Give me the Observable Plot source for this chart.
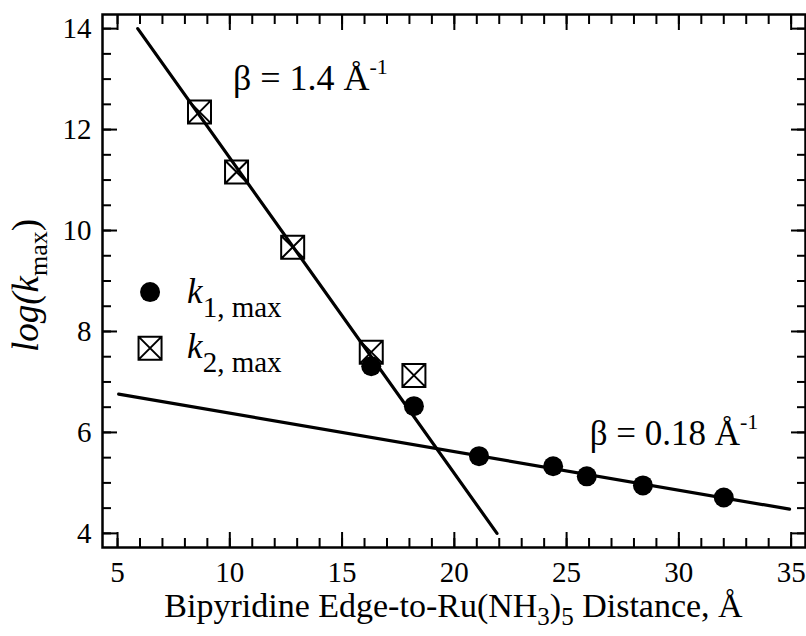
<!DOCTYPE html>
<html><head><meta charset="utf-8">
<script src="https://cdn.jsdelivr.net/npm/d3@7"></script>
<script src="https://cdn.jsdelivr.net/npm/@observablehq/plot@0.6"></script>
<style>body{margin:0;background:#fff}</style>
</head><body><div id="chart"></div>
<script>
// ---- data ----
const k1Distance = [16.3, 18.2, 21.1, 24.4, 25.9, 28.4, 32.0];
const k1LogK     = [7.31, 6.52, 5.53, 5.33, 5.13, 4.95, 4.71];
const k2Distance = [8.65, 10.3, 12.8, 16.3, 18.2];
const k2LogK     = [12.35, 11.16, 9.67, 7.59, 7.13];
const steepFitDistance   = [5.9, 21.9];
const steepFitLogK       = [14.0, 4.0];
const shallowFitDistance = [5.05, 34.93];
const shallowFitLogK     = [6.76, 4.48];
const xTicks = [5, 10, 15, 20, 25, 30, 35];
const yTicks = [4, 6, 8, 10, 12, 14];
const xMinorTicks = [5,6,7,8,9,10,11,12,13,14,15,16,17,18,19,20,21,22,23,24,25,26,27,28,29,30,31,32,33,34,35];
const yMinorTicks = [4,4.5,5,5.5,6,6.5,7,7.5,8,8.5,9,9.5,10,10.5,11,11.5,12,12.5,13,13.5,14];

const k1 = k1Distance.map((d, i) => ({d, v: k1LogK[i]}));
const k2 = k2Distance.map((d, i) => ({d, v: k2LogK[i]}));
const steep = steepFitDistance.map((d, i) => ({d, v: steepFitLogK[i]}));
const shallow = shallowFitDistance.map((d, i) => ({d, v: shallowFitLogK[i]}));

const SERIF = "Liberation Serif, Times New Roman, Times, serif";

// square with an X inside
const boxX = {
  draw(ctx, size) {
    const h = Math.sqrt(size / Math.PI);
    ctx.moveTo(-h, -h); ctx.lineTo(h, -h); ctx.lineTo(h, h); ctx.lineTo(-h, h); ctx.closePath();
    ctx.moveTo(-h, -h); ctx.lineTo(h, h);
    ctx.moveTo(h, -h); ctx.lineTo(-h, h);
  }
};

function rich(g, x, y, parts, size, anchor = "start", transform = null) {
  const t = g.append("text").attr("x", x).attr("y", y).attr("font-size", size)
    .attr("text-anchor", anchor).attr("fill", "black");
  if (transform) t.attr("transform", transform);
  let shift = 0;
  for (const p of parts) {
    const s = t.append("tspan").text(p.t);
    const target = p.shift || 0;
    if (target !== shift) { s.attr("dy", target - shift); shift = target; }
    if (p.size) s.attr("font-size", p.size);
    if (p.italic) s.attr("font-style", "italic");
  }
  return t;
}

function annotations(index, scales, values, dims) {
  const X = scales.x, Y = scales.y;
  const g = d3.create("svg:g").attr("font-family", SERIF);
  // beta labels
  rich(g, X(10.16), Y(12.77), [{t: "β = 1.4 Å"}, {t: "-1", size: 22, shift: -16}], 36);
  rich(g, X(26.05), Y(5.74), [{t: "β = 0.18 Å"}, {t: "-1", size: 22, shift: -16}], 35);
  // legend
  const lx = X(6.47);
  g.append("circle").attr("cx", lx).attr("cy", Y(8.77)).attr("r", 10).attr("fill", "black");
  g.append("path").attr("transform", `translate(${lx},${Y(7.66)})`)
    .attr("d", "M-11.5,-11.5H11.5V11.5H-11.5Z M-11.5,-11.5L11.5,11.5 M11.5,-11.5L-11.5,11.5")
    .attr("fill", "none").attr("stroke", "black").attr("stroke-width", 2);
  rich(g, X(8.12), Y(8.55), [{t: "k", italic: true}, {t: "1, max", size: 29, shift: 14}], 35);
  rich(g, X(8.12), Y(7.46), [{t: "k", italic: true}, {t: "2, max", size: 29, shift: 14}], 35);
  // axis titles
  const cx = (dims.marginLeft + dims.width - dims.marginRight) / 2;
  rich(g, cx, 617, [
    {t: "Bipyridine Edge-to-Ru(NH"}, {t: "3", size: 25, shift: 8}, {t: ")", shift: 0},
    {t: "5", size: 25, shift: 8}, {t: " Distance, Å", shift: 0}
  ], 34, "middle");
  const cy = (dims.marginTop + dims.height - dims.marginBottom) / 2 + 5;
  rich(g, 0, 0, [
    {t: "log(k", italic: true}, {t: "max", size: 26, shift: 9}, {t: ")", shift: 0}
  ], 37, "middle", `translate(38,${cy}) rotate(-90)`);
  return g.node();
}

const chart = Plot.plot({
  width: 806, height: 636,
  marginLeft: 102, marginRight: 1, marginTop: 14, marginBottom: 89,
  x: {domain: [4.33, 35.64]},
  y: {domain: [3.72, 14.28]},
  style: {fontFamily: SERIF, fontSize: "29px", background: "white", color: "black", overflow: "visible"},
  marks: [
    // minor ticks, all four sides, inward
    Plot.axisX(xMinorTicks, {anchor: "bottom", tickSize: -9, strokeWidth: 2, tickFormat: () => "", label: null}),
    Plot.axisX(xMinorTicks, {anchor: "top", tickSize: -9, strokeWidth: 2, tickFormat: () => "", label: null}),
    Plot.axisY(yMinorTicks, {anchor: "left", tickSize: -9, strokeWidth: 2, tickFormat: () => "", label: null}),
    Plot.axisY(yMinorTicks, {anchor: "right", tickSize: -9, strokeWidth: 2, tickFormat: () => "", label: null}),
    // major ticks
    Plot.axisX(xTicks, {anchor: "bottom", tickSize: -15, strokeWidth: 2, tickFormat: () => "", label: null}),
    Plot.axisX(xTicks, {anchor: "top", tickSize: -15, strokeWidth: 2, tickFormat: () => "", label: null}),
    Plot.axisY(yTicks, {anchor: "left", tickSize: -15, strokeWidth: 2, tickFormat: () => "", label: null}),
    Plot.axisY(yTicks, {anchor: "right", tickSize: -15, strokeWidth: 2, tickFormat: () => "", label: null}),
    // tick labels
    Plot.axisX(xTicks, {anchor: "bottom", tickSize: 0, tickPadding: 14, tickFormat: d => String(d), label: null, fontSize: 29}),
    Plot.axisY(yTicks, {anchor: "left", tickSize: 0, tickPadding: 11, tickFormat: d => String(d), label: null, fontSize: 29}),
    Plot.frame({stroke: "black", strokeWidth: 2.5}),
    // fit lines
    Plot.line(steep, {x: "d", y: "v", stroke: "black", strokeWidth: 3.2}),
    Plot.line(shallow, {x: "d", y: "v", stroke: "black", strokeWidth: 3.2}),
    // data
    Plot.dot(k2, {x: "d", y: "v", symbol: boxX, r: 11.5, stroke: "black", strokeWidth: 2, fill: "none"}),
    Plot.dot(k1, {x: "d", y: "v", r: 10, fill: "black", stroke: "none"}),
    annotations
  ]
});
document.getElementById("chart").appendChild(chart);
</script>
</body></html>
